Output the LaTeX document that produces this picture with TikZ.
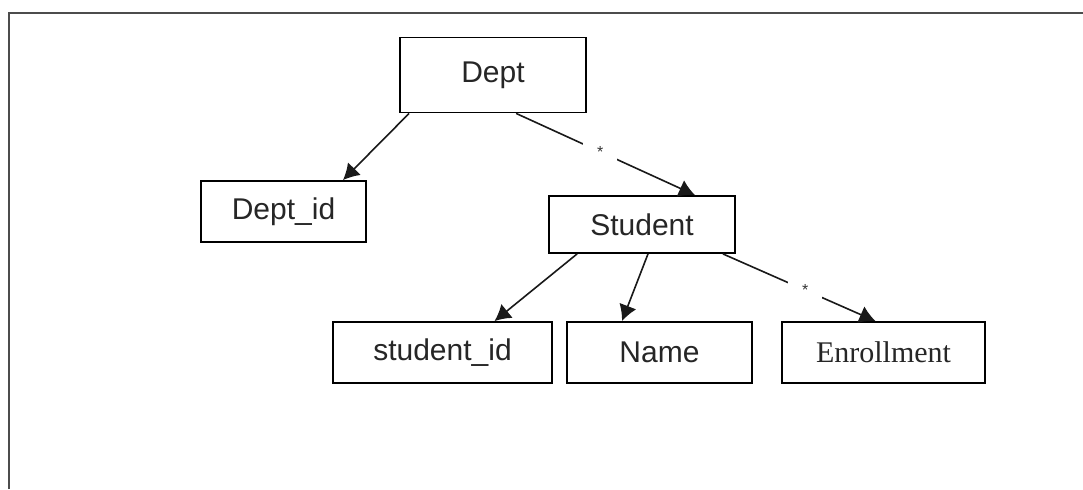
\documentclass[tikz,border=0pt]{standalone}
\usepackage{fontspec}
\setmainfont{Liberation Sans}
\newfontfamily\serifface{Liberation Serif}
\usetikzlibrary{arrows.meta,calc}
\tikzset{
  entity/.style={draw=black, line width=0.9pt, fill=white, inner sep=0pt,
    text=black!85, font=\fontsize{15}{18}\selectfont},
  link/.style={draw=black!90, line width=0.8pt, -{Latex[length=8pt,width=9pt]}},
  star/.style={fill=white, inner sep=0pt, minimum size=17pt, font=\footnotesize, text=black!80},
  frame/.style={draw=black!70, line width=1.1pt}
}
\begin{document}
\begin{tikzpicture}[x=0.5pt,y=-0.5pt]
\useasboundingbox (0,0) rectangle (1083,489);
\fill[white] (0,0) rectangle (1083,489);
\coordinate (fbl) at (9,489);
\coordinate (ftl) at (9,13);
\coordinate (ftr) at (1083,13);
\draw[frame] (fbl) -- (ftl) -- (ftr);

\node[entity, minimum width=93pt, minimum height=37.5pt] (dept) at (493,75) {Dept};
\node[entity, minimum width=82.5pt, minimum height=30.5pt] (deptid) at (283.5,211.5) {Dept\_id};
\node[entity, minimum width=93pt, minimum height=28.5pt] (student) at (642,224.5) {Student};
\node[entity, minimum width=109.5pt, minimum height=30.5pt] (sid) at (442.5,352.5) {student\_id};
\node[entity, minimum width=92.5pt, minimum height=30.5pt] (name) at (659.5,352.5) {Name};
\node[entity, minimum width=101.5pt, minimum height=30.5pt, font=\serifface\fontsize{15}{18}\selectfont] (enr) at (883.5,352.5) {Enrollment};

\draw[link] ($(dept.south west)+(10,0)$) -- ($(deptid.north)+(59.5,0)$);
\draw[link] ($(dept.south west)+(117,0)$) -- node[star, pos=0.47] {*} ($(student.north)+(53,0)$);
\draw[link] ($(student.south west)+(29,0)$) -- ($(sid.north)+(52,0)$);
\draw[link] ($(student.south)+(6,0)$) -- ($(name.north)+(-37.5,0)$);
\draw[link] ($(student.south east)+(-13,0)$) -- node[star, pos=0.54] {*} ($(enr.north)+(-8,0)$);
\end{tikzpicture}
\end{document}
